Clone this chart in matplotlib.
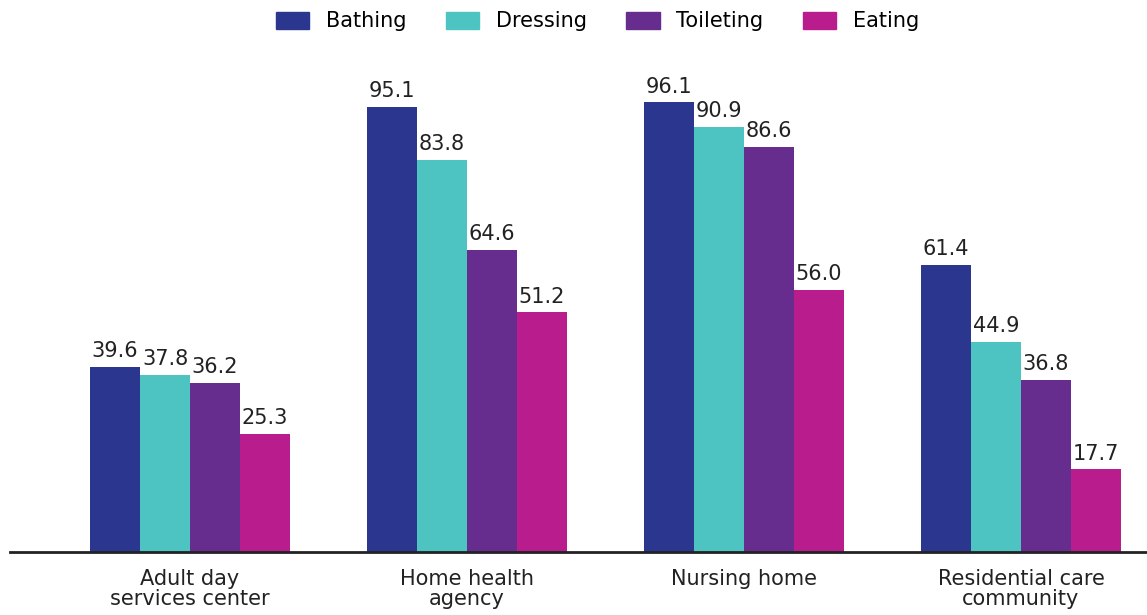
import numpy as np
import matplotlib.pyplot as plt
import matplotlib as mpl
from matplotlib.patches import Patch

mpl.rcParams["font.family"] = ["DejaVu Sans"]
mpl.rcParams["font.size"] = 15

categories = ["Adult day\nservices center", "Home health\nagency", "Nursing home", "Residential care\ncommunity"]
series = ["Bathing", "Dressing", "Toileting", "Eating"]
bathing = [39.6, 95.1, 96.1, 61.4]
dressing = [37.8, 83.8, 90.9, 44.9]
toileting = [36.2, 64.6, 86.6, 36.8]
eating = [25.3, 51.2, 56.0, 17.7]

colors = ["#2B368F", "#4DC3C2", "#662C8E", "#B91C8C"]
values = [bathing, dressing, toileting, eating]

fig = plt.figure(figsize=(11.47, 6.15), dpi=100)
ax = fig.add_axes([10 / 1147, 63 / 615, 1137 / 1147, 468 / 615])

x = np.arange(len(categories))
w = 50 / 277
for i, (name, vals, c) in enumerate(zip(series, values, colors)):
    pos = x + (i - 1.5) * w
    ax.bar(pos, vals, width=w, color=c, label=name)
    for p, v in zip(pos, vals):
        ax.text(p, v + 1.2, f"{v:.1f}", ha="center", va="bottom", fontsize=15, color="#222222")

ax.set_xlim(-0.65, 3.455)
ax.set_ylim(0, 100)
ax.set_yticks([])
ax.set_xticks(x)
ax.set_xticklabels(categories, fontsize=15, color="#222222", linespacing=1.05)
ax.tick_params(axis="x", length=0, pad=12)
for s in ["top", "right", "left"]:
    ax.spines[s].set_visible(False)
ax.spines["bottom"].set_linewidth(2)
ax.spines["bottom"].set_color("#222222")

handles = [Patch(color=c) for c in colors]
fig.legend(handles, series, loc="upper center", bbox_to_anchor=(0.521, 1.012), ncol=4,
           frameon=False, fontsize=15, handlelength=1.6, handleheight=0.9,
           columnspacing=1.9, handletextpad=0.8)

fig.savefig("out.png", dpi=100)
